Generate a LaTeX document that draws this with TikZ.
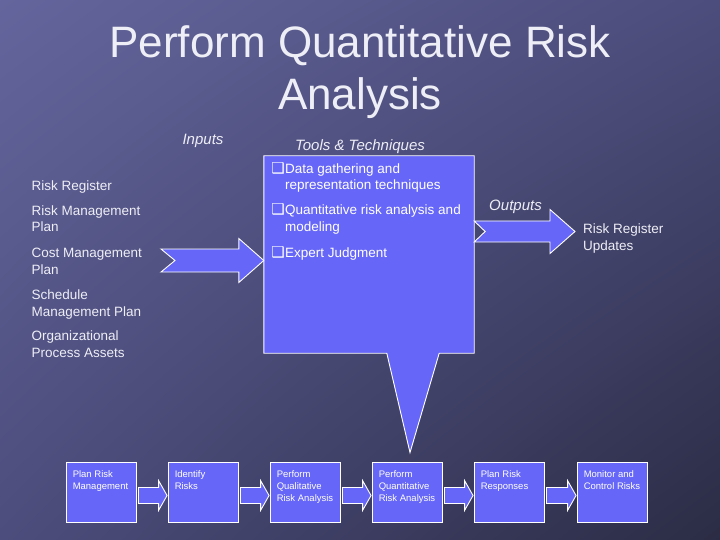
\documentclass[tikz,border=0pt]{standalone}
\usepackage{fontspec}
\setmainfont{Liberation Sans}
\newfontfamily\dingfont{DejaVu Sans}
\usetikzlibrary{calc,shadings}
\definecolor{bgA}{HTML}{64659C}
\definecolor{bgM}{HTML}{4C4D7C}
\definecolor{bgB}{HTML}{2B2C44}
\definecolor{paper}{HTML}{EEEEF6}
\definecolor{boxblue}{HTML}{6666F8}
\newcommand\qbul{\llap{{\dingfont\fontsize{15}{15}\selectfont ❑}\hspace{0.5pt}}}
\tikzset{
  procbox/.style={draw=white,line width=.9pt,fill=boxblue,
    minimum width=70pt,minimum height=60pt,inner sep=0pt},
  proctext/.style={anchor=north west,inner sep=0pt,align=left,
    text=white,font=\fontsize{9.5}{12}\selectfont},
  listtext/.style={anchor=base west,inner sep=0pt,align=left},
  headtext/.style={anchor=base,inner sep=0pt,font=\fontsize{15}{18}\selectfont\itshape},
  blockarrow/.style={draw=white,line width=.9pt,fill=boxblue,line join=miter},
}

\begin{document}
\begin{tikzpicture}[x=1pt,y=-1pt,font=\fontsize{13.5}{16.5}\selectfont,text=paper]
  \useasboundingbox (0,0) rectangle (720,540);
  \shade[upper left=bgA,upper right=bgM,lower left=bgM,lower right=bgB]
    (0,0) rectangle (720,540);

  % (base of a multi-line node = its last line)
  \node[font=\fontsize{44}{52}\selectfont,align=center,anchor=base,inner sep=0pt]
    (title) at (360,110) {Perform Quantitative Risk\\Analysis};

  % column heads
  \node[headtext] (inputs) at (203,145) {Inputs};
  \node[headtext] (tech) at (360,151) {Tools \& Techniques};
  \node[headtext] (outputs) at (515.5,211) {Outputs};

  % inputs
  \foreach \n/\yy/\lab in {1/191/{Risk Register},2/232/{Risk Management\\Plan},
      3/274/{Cost Management\\Plan},4/316/{Schedule\\Management Plan},
      5/357/{Organizational\\Process Assets}}{
    \node[listtext] (in\n) at (31.5,\yy) {\lab};
  }

  % tools and techniques callout
  \node[minimum width=210pt,minimum height=197pt,inner sep=0pt]
    (tools) at (369,254.5) {};

  % process steps
  \foreach \i/\x/\lab in {1/101/{Plan Risk\\Management},2/203/{Identify\\Risks},
      3/305/{Perform\\Qualitative\\Risk Analysis},4/407/{Perform\\Quantitative\\Risk Analysis},
      5/509/{Plan Risk\\Responses},6/612/{Monitor and\\Control Risks}}{
    \node[procbox] (p\i) at (\x,492) {};
    \node[proctext] (t\i) at ([shift={(7,9)}]p\i.north west) {\lab};
  }

  \draw[blockarrow] (tools.north west) -- (tools.north east) -- (tools.south east)
    -- ($(tools.south east)+(-35,0)$) -- ($(p4.north)+(3,-9)$)
    -- ($(tools.south west)+(123,0)$) -- (tools.south west) -- cycle;

  \foreach \n/\yy/\lab in {1/190/{Data gathering and\\representation techniques},
      2/231/{Quantitative risk analysis and\\modeling},3/257/{Expert Judgment}}{
    \node[listtext,text=white] (tt\n) at (285,\yy) {\qbul\lab};
  }

  % input and output arrows
  \coordinate (intail) at (161,260.5);
  \coordinate (outtip) at (575,231.5);
  \draw[blockarrow] ($(intail)+(0,-11.5)$) -- ($(tools.west|-intail)+(-25,-11.5)$)
    -- ($(tools.west|-intail)+(-25,-22)$) -- (tools.west|-intail)
    -- ($(tools.west|-intail)+(-25,22)$) -- ($(tools.west|-intail)+(-25,11.5)$)
    -- ($(intail)+(0,11.5)$) -- ($(intail)+(14,0)$) -- cycle;
  \draw[blockarrow] (tools.east|-outtip) ++(0,-10.5) -- ($(outtip)+(-25,-10.5)$)
    -- ($(outtip)+(-25,-22)$) -- (outtip) -- ($(outtip)+(-25,22)$)
    -- ($(outtip)+(-25,10.5)$) -- ($(tools.east|-outtip)+(0,10.5)$)
    -- ($(tools.east|-outtip)+(11,0)$) -- cycle;
  \node[listtext] (regupd) at (583,250) {Risk Register\\Updates};

  % arrows between steps
  \foreach \a/\b in {p1/p2,p2/p3,p3/p4,p4/p5,p5/p6}{
    \draw[blockarrow] ($(\a.east)+(2,-4.5)$) -- ($(\b.west)+(-9,-4.5)$)
      -- ($(\b.west)+(-9,-11.5)$) -- ($(\b.west)+(-0.5,3.5)$)
      -- ($(\b.west)+(-9,18.5)$) -- ($(\b.west)+(-9,11.5)$)
      -- ($(\a.east)+(2,11.5)$) -- cycle;
  }
\end{tikzpicture}
\end{document}
